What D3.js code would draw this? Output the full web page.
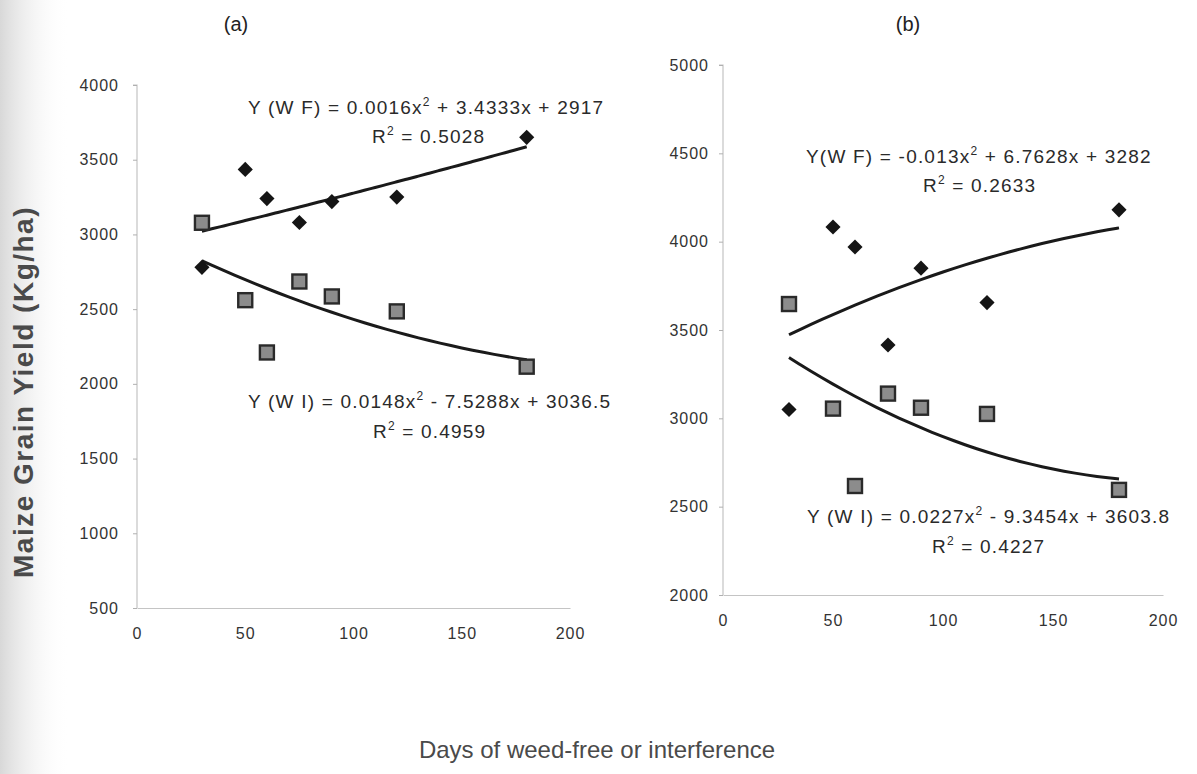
<!DOCTYPE html>
<html>
<meta charset="utf-8">
<style>
body { margin: 0; background: #fff; }
text { font-family: "Liberation Sans", Arial, sans-serif; }
</style>
<body>
</body>
<script src="https://cdn.jsdelivr.net/npm/d3@7"></script>
<script>

// days after emergence (x) shared by every series
var days = [30, 50, 60, 75, 90, 120, 180];
var xTicks = [0, 50, 100, 150, 200];

// panel (a)
var diamondA = [2780, 3435, 3240, 3080, 3220, 3250, 3650];
var squareA  = [3078, 2560, 2210, 2685, 2585, 2485, 2115];
var yTicksA  = [500, 1000, 1500, 2000, 2500, 3000, 3500, 4000];
var wfCoefA  = [0.0016, 3.4333, 2917];
var wiCoefA  = [0.0148, -7.5288, 3036.5];
var wfTextA  = ["Y (W F) = 0.0016x", " + 3.4333x + 2917", "0.5028"];
var wiTextA  = ["Y (W I) = 0.0148x", " - 7.5288x + 3036.5", "0.4959"];

// panel (b)
var diamondB = [3050, 4083, 3970, 3415, 3850, 3655, 4180];
var squareB  = [3647, 3055, 2617, 3140, 3060, 3025, 2595];
var yTicksB  = [2000, 2500, 3000, 3500, 4000, 4500, 5000];
var wfCoefB  = [-0.013, 6.7628, 3282];
var wiCoefB  = [0.0227, -9.3454, 3603.8];
var wfTextB  = ["Y(W F) = -0.013x", " + 6.7628x + 3282", "0.2633"];
var wiTextB  = ["Y (W I) = 0.0227x", " - 9.3454x + 3603.8", "0.4227"];

var width = 1197, height = 774;

var svg = d3.select("body").append("svg")
    .attr("width", width)
    .attr("height", height);

// scan shadow on the left edge
var grad = svg.append("defs").append("linearGradient")
    .attr("id", "shade").attr("x1", "0").attr("x2", "1").attr("y1", "0").attr("y2", "0");
grad.append("stop").attr("offset", "0").attr("stop-color", "#d8d8d8");
grad.append("stop").attr("offset", "1").attr("stop-color", "#fff").attr("stop-opacity", 0);
svg.append("rect").attr("x", 0).attr("y", 0).attr("width", 70).attr("height", height)
    .attr("fill", "url(#shade)");

function panel(opt) {
  var x = d3.scaleLinear().domain([0, 200]).range(opt.xr);
  var y = d3.scaleLinear().domain(opt.ydom).range(opt.yr);
  var g = svg.append("g");

  // axes
  var yAxis = g.append("g")
      .attr("transform", "translate(" + opt.xr[0] + ",0)")
      .call(d3.axisLeft(y).tickValues(opt.yTicks).tickSize(4).tickPadding(opt.pad).tickFormat(d3.format("d")));
  var xAxis = g.append("g")
      .attr("transform", "translate(0," + opt.yr[0] + ")")
      .call(d3.axisBottom(x).tickValues(xTicks).tickSize(0).tickPadding(20));
  g.selectAll(".domain").attr("stroke", "#c4c4c4").attr("stroke-width", 1.2);
  g.selectAll(".tick line").attr("stroke", "#b0b0b0");
  g.selectAll(".tick text").attr("fill", "#333")
    .style("font-size", "16px").style("letter-spacing", "1px");
  yAxis.select(".domain").attr("d", "M-4," + opt.yr[1] + "H0V" + opt.yr[0]);

  // fitted curves
  var line = d3.line()
      .x(function (d) { return x(d); })
      .curve(d3.curveBasis);
  [opt.wf, opt.wi].forEach(function (c) {
    var pts = d3.range(30, 181, 5);
    g.append("path")
      .datum(pts)
      .attr("fill", "none")
      .attr("stroke", "#1a1a1a")
      .attr("stroke-width", 3)
      .attr("d", line.y(function (d) { return y(c[0] * d * d + c[1] * d + c[2]); }));
  });

  // square markers
  g.selectAll(".sq").data(opt.square).enter().append("rect")
    .attr("x", function (d, i) { return x(days[i]) - 7; })
    .attr("y", function (d) { return y(d) - 7; })
    .attr("width", 14).attr("height", 14)
    .attr("fill", "#8c8c8c")
    .attr("stroke", "#2a2a2a")
    .attr("stroke-width", 2.4);

  // diamond markers
  var sym = d3.symbol().type(d3.symbolSquare).size(115);
  g.selectAll(".dm").data(opt.diamond).enter().append("path")
    .attr("d", sym)
    .attr("transform", function (d, i) {
      return "translate(" + x(days[i]) + "," + y(d) + ")rotate(45)";
    })
    .attr("fill", "#151515");

  // equation labels
  [[opt.wfText, opt.wfPos], [opt.wiText, opt.wiPos]].forEach(function (e) {
    var t = g.append("text")
      .attr("x", e[1][0]).attr("y", e[1][1])
      .attr("fill", "#2a2a2a").style("font-size", "19px").style("letter-spacing", "1.2px");
    t.append("tspan").text(e[0][0]);
    t.append("tspan").attr("dy", -8).style("font-size", "12px").text("2");
    t.append("tspan").attr("dy", 8).text(e[0][1]);
    var r = g.append("text")
      .attr("x", e[1][2]).attr("y", e[1][3])
      .attr("fill", "#2a2a2a").style("font-size", "19px").style("letter-spacing", "1.2px");
    r.append("tspan").text("R");
    r.append("tspan").attr("dy", -8).style("font-size", "12px").text("2");
    r.append("tspan").attr("dy", 8).text(" = " + e[0][2]);
  });

  svg.append("text")
    .attr("x", opt.title[0]).attr("y", opt.title[1])
    .attr("text-anchor", "middle")
    .attr("fill", "#222").style("font-size", "20px")
    .text(opt.title[2]);
}

panel({
  xr: [137, 570], yr: [608, 85], ydom: [500, 4000], yTicks: yTicksA, pad: 14,
  diamond: diamondA, square: squareA, wf: wfCoefA, wi: wiCoefA,
  wfText: wfTextA, wiText: wiTextA,
  wfPos: [248, 114, 372, 143], wiPos: [248, 408, 373, 438],
  title: [236, 31, "(a)"]
});

panel({
  xr: [723, 1163], yr: [595, 65], ydom: [2000, 5000], yTicks: yTicksB, pad: 10,
  diamond: diamondB, square: squareB, wf: wfCoefB, wi: wiCoefB,
  wfText: wfTextB, wiText: wiTextB,
  wfPos: [806, 163, 923, 192], wiPos: [807, 523, 932, 553],
  title: [908, 31, "(b)"]
});

// axis titles
svg.append("text")
    .attr("transform", "translate(33,392)rotate(-90)")
    .attr("text-anchor", "middle")
    .attr("fill", "#4a4a4a")
    .style("font-size", "28px")
    .style("font-weight", "bold")
    .style("letter-spacing", "1.5px")
    .text("Maize Grain Yield (Kg/ha)");

svg.append("text")
    .attr("x", 597).attr("y", 758)
    .attr("text-anchor", "middle")
    .attr("fill", "#4a4a4a")
    .style("font-size", "24px")
    .text("Days of weed-free or interference");

</script>
</html>
